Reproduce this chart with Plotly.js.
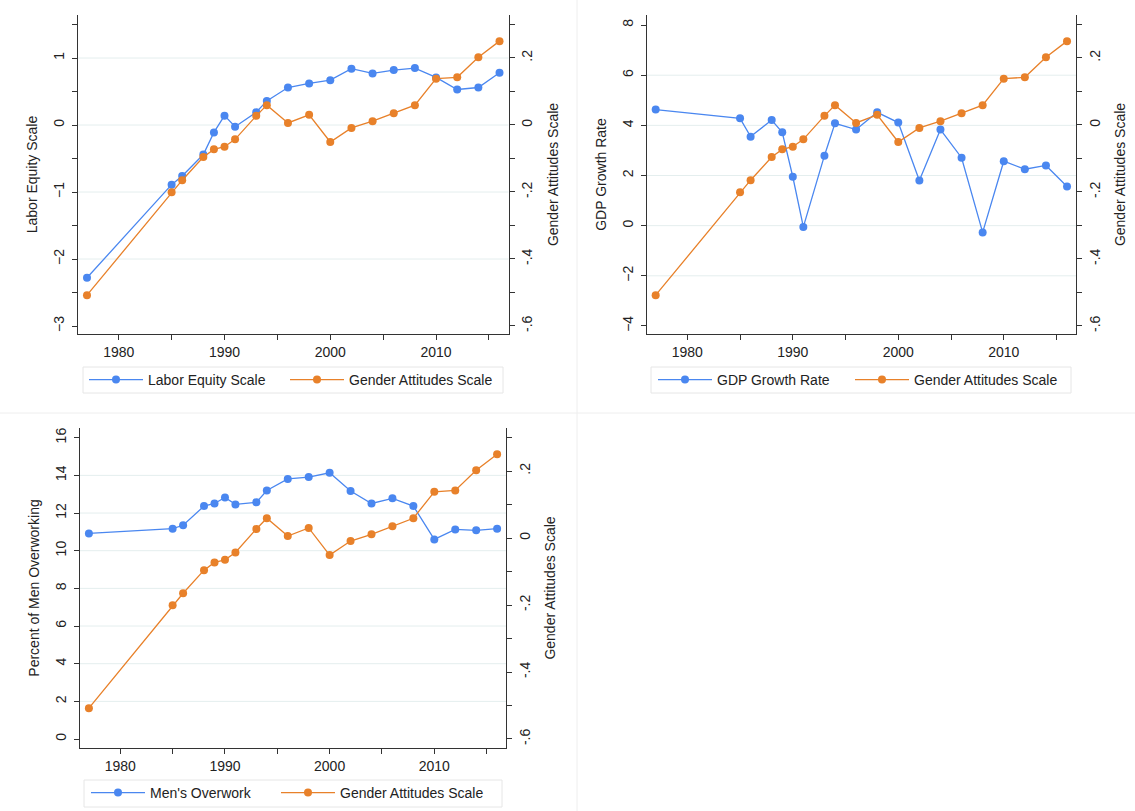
<!DOCTYPE html>
<html>
<head>
<meta charset="utf-8">
<script src="https://cdn.plot.ly/plotly-3.0.1.min.js"></script>
<style>html,body{margin:0;padding:0;background:#fff;}#chart{width:1135px;height:811px;}</style>
</head>
<body>
<div id="chart"></div>
<script>
// ---- data ----
const years = [1977,1985,1986,1988,1989,1990,1991,1993,1994,1996,1998,2000,2002,2004,2006,2008,2010,2012,2014,2016];
const laborEquity = [-2.28,-0.89,-0.76,-0.44,-0.11,0.14,-0.025,0.19,0.36,0.56,0.62,0.67,0.84,0.77,0.82,0.85,0.71,0.53,0.56,0.78];
const genderAttitudes = [-0.508,-0.201,-0.165,-0.096,-0.073,-0.065,-0.043,0.027,0.059,0.006,0.030,-0.051,-0.009,0.011,0.035,0.059,0.138,0.142,0.202,0.250];
const gdpGrowth = [4.63,4.28,3.55,4.21,3.72,1.95,-0.05,2.79,4.08,3.83,4.52,4.11,1.80,3.83,2.71,-0.27,2.57,2.25,2.40,1.56];
const mensOverwork = [10.92,11.17,11.35,12.37,12.51,12.83,12.46,12.57,13.20,13.81,13.91,14.14,13.17,12.51,12.78,12.37,10.60,11.13,11.08,11.17];

const seriesNames = ["Labor Equity Scale","GDP Growth Rate","Men's Overwork","Gender Attitudes Scale"];
const leftTitles = ["Labor Equity Scale","GDP Growth Rate","Percent of Men Overworking"];
const rightTitle = "Gender Attitudes Scale";
const rightTickVals = [-0.6,-0.4,-0.2,0,0.2];
const rightTickText = ["-.6","-.4","-.2","0",".2"];
const grid1 = [-2,-1,0,1];
const grid2 = [-2,0,2,4,6];
const grid3 = [2,4,6,8,10,12,14];

// ---- styling ----
const W = 1135, H = 811;
const BLUE = '#4a87f0', ORANGE = '#e8812a';
const FONT = '"Liberation Sans", Arial, Helvetica, sans-serif';
const AX = '#333333';
const FS = 14;
const px = v => v / W;
const py = v => 1 - v / H;

function lineTrace(y, name, color, xa, ya, leg) {
  return {
    x: years, y: y, name: name, type: 'scatter', mode: 'lines+markers',
    xaxis: xa, yaxis: ya, legend: leg,
    line: {color: color, width: 1.3},
    marker: {color: color, size: 8}
  };
}

const data = [
  lineTrace(laborEquity, seriesNames[0], BLUE, 'x', 'y', 'legend'),
  lineTrace(genderAttitudes, seriesNames[3], ORANGE, 'x', 'y2', 'legend2'),
  lineTrace(gdpGrowth, seriesNames[1], BLUE, 'x2', 'y3', 'legend3'),
  lineTrace(genderAttitudes, seriesNames[3], ORANGE, 'x2', 'y4', 'legend4'),
  lineTrace(mensOverwork, seriesNames[2], BLUE, 'x3', 'y5', 'legend5'),
  lineTrace(genderAttitudes, seriesNames[3], ORANGE, 'x3', 'y6', 'legend6')
];

const tickFont = {family: FONT, size: FS, color: '#222'};
const titleFont = {family: FONT, size: FS, color: '#222'};

function xAxis(domain, anchor) {
  return {
    domain: domain, anchor: anchor, range: [1976.15, 2016.85],
    tick0: 1980, dtick: 10, ticks: 'outside', ticklen: 5, tickcolor: AX,
    minor: {tick0: 1975, dtick: 5, ticks: 'outside', ticklen: 5, tickcolor: AX},
    showline: true, linecolor: AX, linewidth: 1, showgrid: false, zeroline: false,
    tickfont: tickFont, fixedrange: true
  };
}
function yLeft(domain, anchor, range, dtick, minorDtick, title) {
  const a = {
    domain: domain, anchor: anchor, range: range, dtick: dtick, tick0: 0,
    ticks: 'outside', ticklen: 5, tickcolor: AX, tickangle: -90, ticklabelstandoff: 2,
    showline: true, linecolor: AX, linewidth: 1, showgrid: false, zeroline: false,
    tickfont: tickFont, title: {text: title, font: titleFont, standoff: 10}
  };
  if (minorDtick) a.minor = {dtick: minorDtick, tick0: 0, ticks: 'outside', ticklen: 5, tickcolor: AX};
  return a;
}
function yRight(overlay, anchor, range) {
  return {
    overlaying: overlay, anchor: anchor, side: 'right', range: range,
    tickvals: rightTickVals, ticktext: rightTickText,
    ticks: 'outside', ticklen: 5, tickcolor: AX, tickangle: -90, ticklabelstandoff: 1,
    minor: {tick0: 0, dtick: 0.1, ticks: 'outside', ticklen: 5, tickcolor: AX},
    showline: true, linecolor: AX, linewidth: 1, showgrid: false, zeroline: false,
    tickfont: tickFont, title: {text: rightTitle, font: titleFont, standoff: 13}
  };
}

const domTop = [py(334), py(15)];
const domBot = [py(747.7), py(428.3)];
const d1 = [px(78), px(508.5)];
const d2 = [px(646.7), px(1076)];
const d3 = [px(80), px(506)];

function gShapes(vals, xref, yref) {
  return vals.map(v => ({type: 'line', xref: xref + ' domain', yref: yref, x0: 0, x1: 1, y0: v, y1: v, layer: 'below', line: {color: '#e4eeee', width: 1}}));
}
function box(x0, x1, y0, y1) {
  return {type: 'rect', xref: 'paper', yref: 'paper', x0: px(x0), x1: px(x1), y0: py(y1), y1: py(y0), line: {color: '#e6e6e6', width: 1}, layer: 'below'};
}
const sep = [
  {type: 'line', xref: 'paper', yref: 'paper', x0: px(577), x1: px(577), y0: 0, y1: 1, line: {color: '#eeeeee', width: 1}, layer: 'below'},
  {type: 'line', xref: 'paper', yref: 'paper', x0: 0, x1: 1, y0: py(413), y1: py(413), line: {color: '#eeeeee', width: 1}, layer: 'below'}
];

function legendCfg(x, y) {
  return {
    orientation: 'h', x: px(x), y: py(y), xanchor: 'left', yanchor: 'middle',
    xref: 'paper', yref: 'paper', bgcolor: 'rgba(0,0,0,0)', borderwidth: 0,
    font: {family: FONT, size: FS, color: '#222'}, itemwidth: 54
  };
}

const layout = {
  width: W, height: H,
  margin: {l: 0, r: 0, t: 0, b: 0, pad: 0},
  paper_bgcolor: '#fff', plot_bgcolor: 'rgba(0,0,0,0)',
  font: {family: FONT, size: FS, color: '#222'},
  showlegend: true,
  xaxis: xAxis(d1, 'y'),
  yaxis: yLeft(domTop, 'x', [-3.119, 1.642], 1, 0.5, leftTitles[0]),
  yaxis2: yRight('y', 'x', [-0.624, 0.328]),
  xaxis2: xAxis(d2, 'y3'),
  yaxis3: yLeft(domTop, 'x2', [-4.32, 8.4], 2, null, leftTitles[1]),
  yaxis4: yRight('y3', 'x2', [-0.624, 0.328]),
  xaxis3: xAxis(d3, 'y5'),
  yaxis5: yLeft(domBot, 'x3', [-0.46, 16.5], 2, null, leftTitles[2]),
  yaxis6: yRight('y5', 'x3', [-0.626, 0.3275]),
  legend: legendCfg(84, 380),
  legend2: legendCfg(285, 380),
  legend3: legendCfg(653, 380),
  legend4: legendCfg(850, 380),
  legend5: legendCfg(86, 793),
  legend6: legendCfg(276, 793),
  shapes: [].concat(
    sep,
    gShapes(grid1, 'x', 'y'),
    gShapes(grid2, 'x2', 'y3'),
    gShapes(grid3, 'x3', 'y5'),
    [box(83, 503, 367, 393), box(651, 1071, 367, 393), box(84, 502, 780, 807)]
  )
};

Plotly.newPlot('chart', data, layout, {displayModeBar: false, staticPlot: true});
</script>
</body>
</html>
